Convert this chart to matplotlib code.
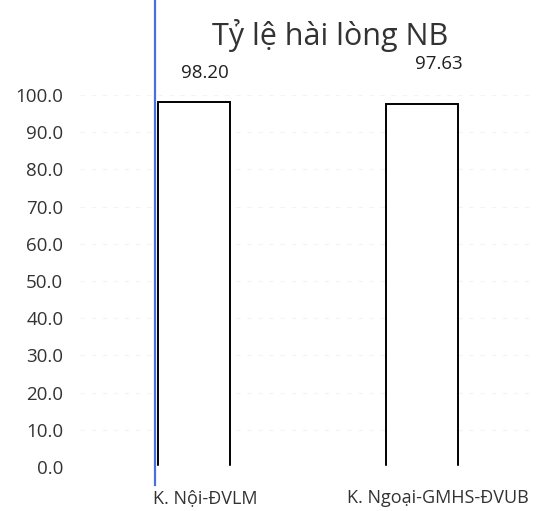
import matplotlib.pyplot as plt
from matplotlib.lines import Line2D

categories = ["K. Nội-ĐVLM", "K. Ngoại-GMHS-ĐVUB"]
values = [98.20, 97.63]
value_labels = ["98.20", "97.63"]
y_ticks = [0, 10, 20, 30, 40, 50, 60, 70, 80, 90, 100]

plt.rcParams["font.family"] = ["Open Sans", "DejaVu Sans"]

fig = plt.figure(figsize=(5.6, 5.11), dpi=100)
ax = fig.add_axes([80 / 560, 44 / 511, 456 / 560, 372 / 511])

x = list(range(len(categories)))
bars = ax.bar(x, values, width=0.315, color="white", edgecolor="black",
              linewidth=1.4, zorder=3)

# no bottom line on the bars in the scan, cover it
for b in bars:
    ax.plot([b.get_x(), b.get_x() + b.get_width()], [0, 0], color="white",
            lw=2.5, zorder=4)

offsets = [(8, 14), (12, 22)]
for i, (v, lab) in enumerate(zip(values, value_labels)):
    ax.annotate(lab, (i, v), xytext=offsets[i], textcoords="offset points",
                ha="center", va="bottom", fontsize=13.5, color="#202020")

ax.set_xlim(-0.5, 1.5)
ax.set_ylim(0, 100)
ax.set_yticks(y_ticks)
ax.set_yticklabels([f"{t:.1f}" for t in y_ticks], fontsize=13.5, color="#333333")
ax.set_xticks([0.05, 1.07])
ax.set_xticklabels(categories, fontsize=13, color="#333333")
ax.tick_params(length=0, pad=12)
ax.tick_params(axis="x", pad=16)
ax.grid(axis="y", color="#f3f3f3", linestyle=(0, (4, 6)), lw=0.8, zorder=0)
for s in ax.spines.values():
    s.set_visible(False)

fig.text(330 / 560, 1 - 36 / 511, "Tỷ lệ hài lòng NB", ha="center", va="center",
         fontsize=22, color="#333333")

# blue scan line at the left of the page
fig.add_artist(Line2D([155 / 560, 155 / 560], [0.05, 1.0], color="#4a6fe0",
                      lw=1.6, transform=fig.transFigure))

fig.savefig("out.png", dpi=100, facecolor="white")
